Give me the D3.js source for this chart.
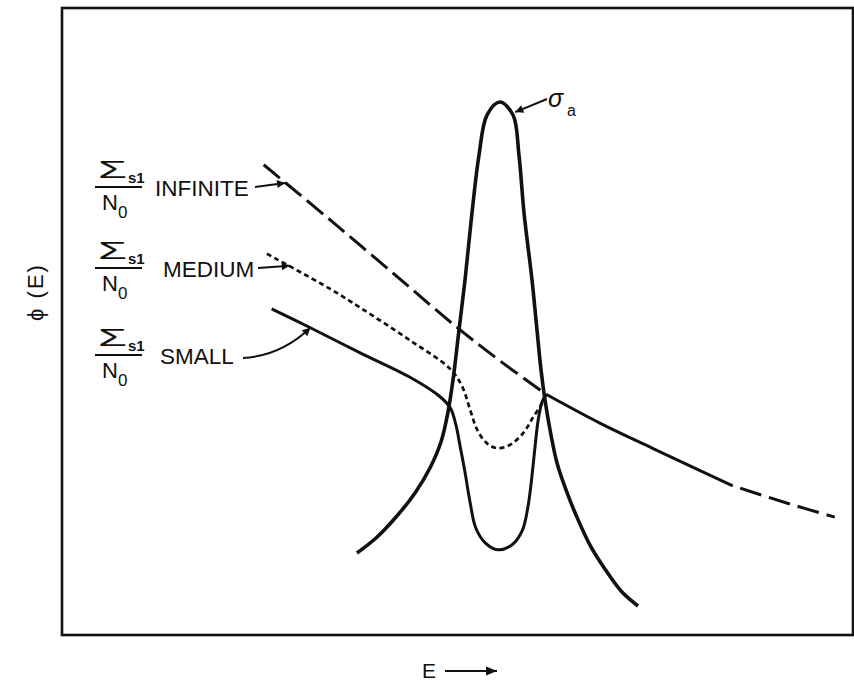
<!DOCTYPE html>
<html>
<head>
<meta charset="utf-8">
<script src="https://cdn.jsdelivr.net/npm/d3@7"></script>
<style>
  html, body { margin: 0; padding: 0; background: #fff; }
  svg { display: block; }
  text { font-family: "Liberation Sans", Arial, sans-serif; fill: #111; }
</style>
</head>
<body>
<svg id="chart" width="854" height="681"></svg>
<script>
// ---- Data (arbitrary units: E 0..100, phi 0..100) ----
const sigmaA = [
  [37.29,13.08],[39.70,15.47],[42.23,18.82],[44.63,22.65],[46.52,26.63],[47.91,30.78],
  [48.80,35.57],[49.43,40.67],[50.19,48.64],[50.95,56.62],[51.83,67.30],[52.72,76.56],
  [53.73,82.93],[55.37,85.01],[57.02,82.93],[57.77,76.56],[58.41,67.30],[59.42,56.62],
  [60.05,48.64],[60.56,42.26],[61.06,37.48],[61.82,31.90],[62.58,27.43],[63.72,23.13],
  [64.98,19.14],[66.75,14.35],[68.90,10.05],[70.80,6.86],[72.82,4.63]
];
const fluxInfinite = [
  [25.5,75.0],[33.9,66.2],[42.7,56.8],[49.9,49.1],[55.4,43.7],[61.2,38.4]
];
const fluxMedium = [
  [25.9,60.8],[33.9,55.2],[37.7,52.2],[44.0,47.0],[49.1,42.4],[50.6,39.6],[51.6,35.9],
  [52.5,32.7],[53.7,30.6],[55.0,29.8],[56.6,30.3],[58.3,32.2],[59.5,34.6],[60.7,37.0],[61.2,38.4]
];
const fluxSmall = [
  [26.5,52.0],[31.4,49.0],[37.7,45.0],[44.0,41.1],[47.8,38.0],[49.1,36.2],[49.8,33.5],
  [50.3,30.3],[50.9,26.3],[51.6,21.1],[52.3,17.1],[53.5,14.7],[55.1,13.6],[56.9,14.4],
  [58.2,16.7],[58.9,20.4],[59.4,25.2],[59.8,30.0],[60.2,34.3],[60.7,37.2],[61.2,38.4]
];
// common asymptotic flux above the resonance (solid, then dashed)
const fluxTailSolid = [[61.2,38.4],[68.0,33.8],[74.8,29.7],[84.8,23.8]];
const fluxTailDashed = [[74.8,29.7],[84.8,23.8],[92.0,20.9],[97.7,18.8]];
const seriesLabels = ["INFINITE", "MEDIUM", "SMALL"];
// arrow tips on the curves (data units)
const arrowTips = [[28.2,72.1],[28.8,58.9],[31.4,49.0]];
const sigmaTip = [57.3,83.4];
const xLabel = "E";
const yLabel = "\u03D5 (E)";

// ---- Layout ----
const svg = d3.select("#chart");
const frame = {left: 62, right: 853, top: 8, bottom: 635};
const x = d3.scaleLinear().domain([0,100]).range([frame.left, frame.right]);
const y = d3.scaleLinear().domain([0,100]).range([frame.bottom, frame.top]);

const defs = svg.append("defs");
defs.append("marker").attr("id","ah").attr("viewBox","0 0 10 10")
  .attr("refX",10).attr("refY",5).attr("markerWidth",10).attr("markerHeight",8)
  .attr("markerUnits","userSpaceOnUse").attr("orient","auto")
  .append("path").attr("d","M0,0 L10,5 L0,10 z").attr("fill","#111");
defs.append("marker").attr("id","ahBig").attr("viewBox","0 0 10 10")
  .attr("refX",10).attr("refY",5).attr("markerWidth",22).attr("markerHeight",11)
  .attr("markerUnits","userSpaceOnUse").attr("orient","auto")
  .append("path").attr("d","M0,1 L10,5 L0,9 z").attr("fill","#111");

// frame
svg.append("rect")
  .attr("x", x(0)).attr("y", y(100))
  .attr("width", x(100)-x(0)).attr("height", y(0)-y(100))
  .attr("fill","none").attr("stroke","#111").attr("stroke-width",2.6);

const line = d3.line().x(d=>x(d[0])).y(d=>y(d[1])).curve(d3.curveCatmullRom.alpha(0.5));

svg.append("path").datum(fluxInfinite).attr("d", line)
  .attr("fill","none").attr("stroke","#111").attr("stroke-width",3)
  .attr("stroke-dasharray","21,7");
svg.append("path").datum(fluxMedium).attr("d", line)
  .attr("fill","none").attr("stroke","#111").attr("stroke-width",2.7)
  .attr("stroke-dasharray","5,3.5");
svg.append("path").datum(fluxSmall).attr("d", line)
  .attr("fill","none").attr("stroke","#111").attr("stroke-width",3);
svg.append("path").datum(fluxTailSolid).attr("d", line)
  .attr("fill","none").attr("stroke","#111").attr("stroke-width",3);
// dashed continuation: skip the part that overlaps the solid tail
const dashedLine = d3.line().x(d=>x(d[0])).y(d=>y(d[1])).curve(d3.curveCatmullRom.alpha(0.5));
const tailD = svg.append("path").datum(fluxTailDashed.slice(1)).attr("d", dashedLine)
  .attr("fill","none").attr("stroke","#111").attr("stroke-width",3)
  .attr("stroke-dasharray","22,8").attr("stroke-dashoffset",22);
svg.append("path").datum(sigmaA).attr("d", line)
  .attr("fill","none").attr("stroke","#111").attr("stroke-width",3.6);

// ---- Series labels (Σs1 / N0  NAME) ----
const groupBars = [187, 268, 355];
const nameX = [155, 163, 160];
seriesLabels.forEach((name, i) => {
  const g = svg.append("g");
  const bar = groupBars[i];
  g.append("text").attr("x",98).attr("y",bar-9).attr("font-size",23)
    .attr("font-family","DejaVu Sans")
    .attr("textLength",29).attr("lengthAdjust","spacingAndGlyphs").text("\u03A3");
  g.append("text").attr("x",128).attr("y",bar-4).attr("font-size",15)
    .attr("font-weight","bold").text("s1");
  g.append("line").attr("x1",95).attr("x2",142).attr("y1",bar).attr("y2",bar)
    .attr("stroke","#111").attr("stroke-width",2);
  g.append("text").attr("x",102).attr("y",bar+23).attr("font-size",22).text("N");
  g.append("text").attr("x",118).attr("y",bar+31).attr("font-size",17).text("0");
  g.append("text").attr("x",nameX[i]).attr("y",bar+9).attr("font-size",22.5).text(name);
  // arrow from label to curve
  const tip = arrowTips[i];
  const tx = x(tip[0]), ty = y(tip[1]);
  const nameEnd = [255, 258, 243][i];
  const sy = bar + (i === 2 ? 3 : 0);
  let d;
  if (i === 2) {
    d = `M${nameEnd},${sy} Q${(nameEnd+tx)/2+4},${sy-2} ${tx},${ty}`;
  } else {
    d = `M${nameEnd},${sy} L${tx},${ty}`;
  }
  g.append("path").attr("d", d).attr("fill","none").attr("stroke","#111")
    .attr("stroke-width",2).attr("marker-end","url(#ah)");
});

// σa label
svg.append("text").attr("x",548).attr("y",107).attr("font-size",25)
  .attr("font-family","DejaVu Sans").attr("font-style","italic").text("\u03C3");
svg.append("text").attr("x",567).attr("y",116).attr("font-size",16).text("a");
svg.append("path")
  .attr("d", `M547,99 L${x(sigmaTip[0])},${y(sigmaTip[1])}`)
  .attr("stroke","#111").attr("stroke-width",2).attr("marker-end","url(#ah)");

// axis labels
svg.append("text")
  .attr("transform","translate(43,292) rotate(-90)")
  .attr("text-anchor","middle").attr("font-size",22)
  .attr("letter-spacing",2).text(yLabel);
svg.append("text").attr("x",422).attr("y",678).attr("font-size",21).text(xLabel);
svg.append("line").attr("x1",445).attr("x2",497).attr("y1",671).attr("y2",671)
  .attr("stroke","#111").attr("stroke-width",2).attr("marker-end","url(#ahBig)");
</script>
</body>
</html>
